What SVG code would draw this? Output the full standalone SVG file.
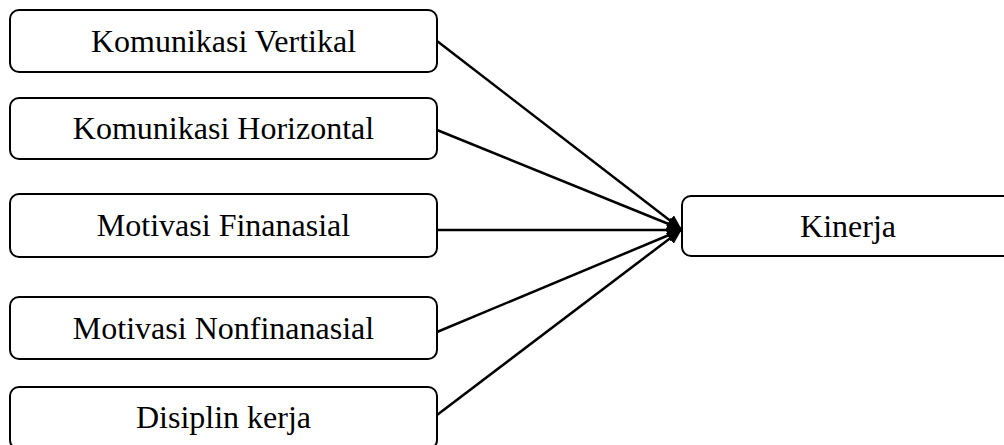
<svg xmlns="http://www.w3.org/2000/svg" width="1004" height="445" viewBox="0 0 1004 445">
<style>
.box{fill:#fff;stroke:#000;stroke-width:2}
.lbl{font-family:"Liberation Serif","Times New Roman",serif;font-size:32px;fill:#000;text-anchor:middle}
.edge{stroke:#000;stroke-width:2.5;fill:none;marker-end:url(#ah)}
</style>
<defs>
<marker id="ah" markerUnits="userSpaceOnUse" markerWidth="16" markerHeight="14" refX="14" refY="6.5" orient="auto">
<path d="M0,0 L15,6.5 L0,13 Z" fill="#000"/>
</marker>
</defs>
<rect width="1004" height="445" fill="#fff"/>
<g id="connectors">
<line class="edge" x1="437" y1="41" x2="681" y2="229"/>
<line class="edge" x1="437" y1="130" x2="681" y2="229"/>
<line class="edge" x1="437" y1="230" x2="681" y2="230"/>
<line class="edge" x1="437" y1="332" x2="681" y2="230"/>
<line class="edge" x1="437" y1="415" x2="681" y2="230"/>
</g>
<g id="n1"><rect class="box" x="10" y="10" width="427" height="62" rx="9"/><text class="lbl" x="223.5" y="52">Komunikasi Vertikal</text></g>
<g id="n2"><rect class="box" x="10" y="98" width="427" height="61" rx="9"/><text class="lbl" x="223.5" y="139">Komunikasi Horizontal</text></g>
<g id="n3"><rect class="box" x="10" y="194" width="427" height="63" rx="9"/><text class="lbl" x="223.5" y="236">Motivasi Finanasial</text></g>
<g id="n4"><rect class="box" x="10" y="297" width="427" height="62" rx="9"/><text class="lbl" x="223.5" y="339">Motivasi Nonfinanasial</text></g>
<g id="n5"><rect class="box" x="10" y="387" width="427" height="62" rx="9"/><text class="lbl" x="223.5" y="428">Disiplin kerja</text></g>
<g id="n6"><rect class="box" x="682" y="196" width="332" height="60" rx="9"/><text class="lbl" x="848" y="237">Kinerja</text></g>
</svg>
